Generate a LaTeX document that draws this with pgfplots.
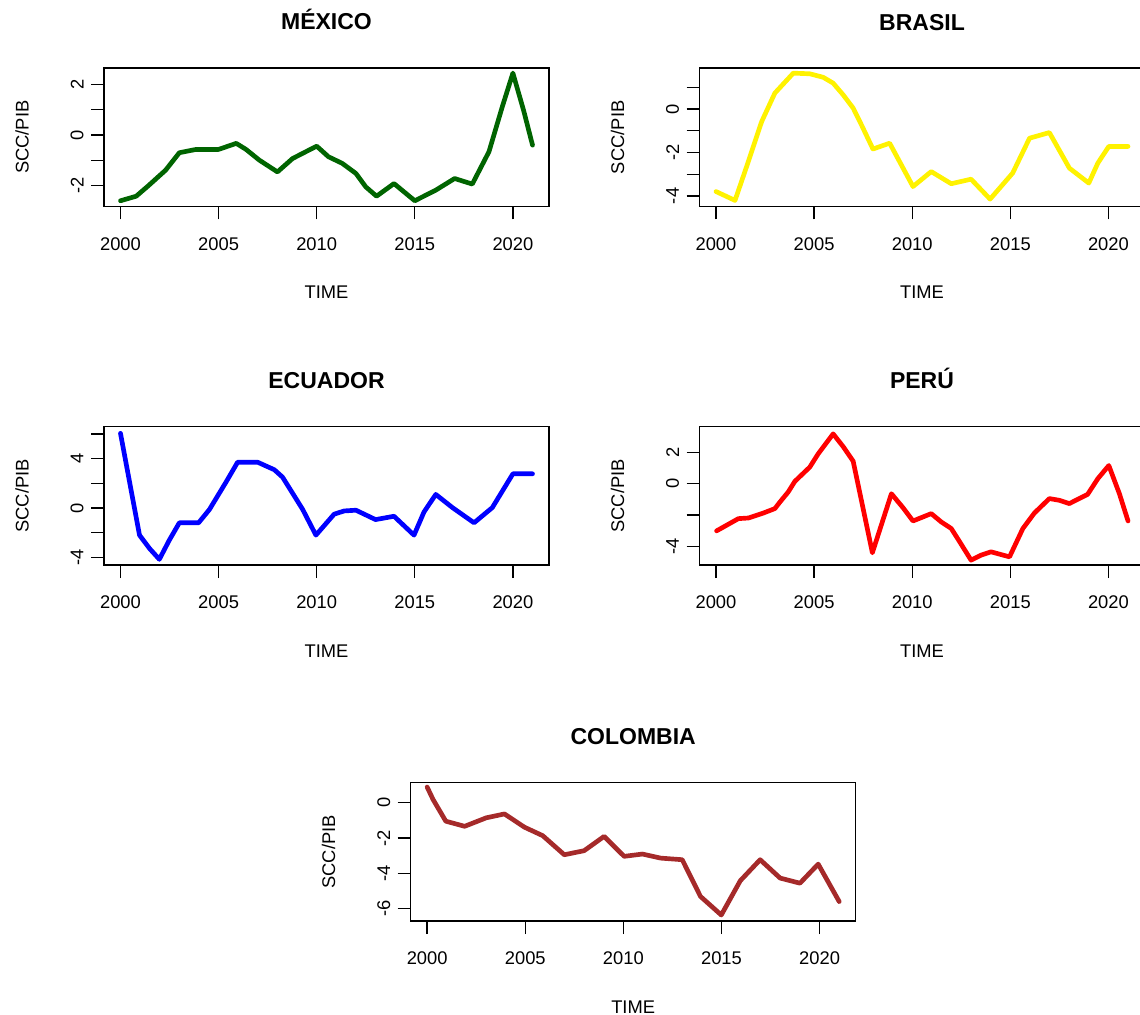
\documentclass[border=0pt]{standalone}
\usepackage{fontspec}
\setmainfont{Liberation Sans}
\usepackage{pgfplots}
\pgfplotsset{compat=1.18}
\definecolor{rdarkgreen}{HTML}{006400}
\definecolor{rbrown}{HTML}{A52A2A}
\pgfplotsset{
  rpanel/.style={
    scale only axis, width=267pt, height=83pt,
    xmin=1999.16, xmax=2021.84,
    axis line style={line width=0.8pt},
    every tick/.style={black, line width=0.8pt},
    tick align=outside, major tick length=7.8pt,
    xtick pos=left, ytick pos=left,
    xtick={2000,2005,2010,2015,2020},
    xticklabels={2000,2005,2010,2015,2020},
    /pgf/number format/assume math mode=true,
    tick label style={font=\fontsize{11}{13}\selectfont},
    xticklabel style={anchor=center},
    xticklabel shift=14.8pt,
    yticklabel style={rotate=90, anchor=center},
    yticklabel shift=8.3pt,
    every axis title/.style={at={(rel axis cs:0.5,1)}, anchor=base, yshift=22.8pt, font=\bfseries\fontsize{13.8}{16}\selectfont},
    every axis x label/.style={at={(rel axis cs:0.5,0)}, anchor=center, yshift=-51.6pt, font=\fontsize{11}{13}\selectfont},
    every axis y label/.style={at={(rel axis cs:0,0.5)}, xshift=-49.2pt, rotate=90, anchor=center, font=\fontsize{11}{13}\selectfont},
    xlabel=TIME, ylabel=SCC/PIB,
    every axis plot/.append style={line width=2.8pt, line join=round, line cap=round},
  }
}
\begin{document}
\begin{tikzpicture}
\useasboundingbox (0,0) rectangle (684pt,-609pt);
% MEXICO
\begin{axis}[rpanel, at={(62.4pt,-123.8pt)}, anchor=south west,
  title={MÉXICO}, ymin=-2.82, ymax=2.65,
  ytick={-2,-1,0,1,2}, yticklabels={-2,,0,,2}]
\addplot[rdarkgreen] coordinates {
(2000,-2.6) (2000.8,-2.42) (2001.4,-2.02) (2002.3,-1.39) (2003.0,-0.70) (2003.85,-0.57)
(2005.0,-0.57) (2005.9,-0.33) (2006.4,-0.57) (2007.07,-0.99) (2008.0,-1.46) (2008.77,-0.93)
(2010.0,-0.44) (2010.6,-0.86) (2011.3,-1.12) (2012.0,-1.52) (2012.5,-2.05) (2013.05,-2.42)
(2013.94,-1.92) (2015.0,-2.6) (2016.07,-2.18) (2017.03,-1.72) (2017.93,-1.94) (2018.78,-0.66)
(2019.46,1.12) (2020.0,2.45) (2020.56,0.93) (2021.0,-0.40)};
\end{axis}
% BRASIL
\begin{axis}[rpanel, at={(419.7pt,-123.9pt)}, anchor=south west,
  title={BRASIL}, ymin=-4.49, ymax=1.89,
  ytick={-4,-3,-2,-1,0,1}, yticklabels={-4,,-2,,0,}]
\addplot[yellow] coordinates {
(2000.0,-3.8) (2000.97,-4.21) (2001.56,-2.65) (2002.33,-0.57) (2003.0,0.74) (2003.94,1.66)
(2004.78,1.63) (2005.46,1.47) (2005.97,1.2) (2006.48,0.66) (2006.99,0.05) (2007.41,-0.72)
(2008.0,-1.84) (2008.85,-1.57) (2010.04,-3.57) (2010.97,-2.88) (2011.99,-3.44) (2013.0,-3.23)
(2013.97,-4.15) (2015.12,-2.95) (2015.98,-1.34) (2016.99,-1.08) (2018.01,-2.72) (2019.0,-3.41)
(2019.46,-2.49) (2020.02,-1.72) (2021.0,-1.72)};
\end{axis}
% ECUADOR
\begin{axis}[rpanel, at={(62.4pt,-339pt)}, anchor=south west,
  title={ECUADOR}, ymin=-4.62, ymax=6.59,
  ytick={-4,-2,0,2,4,6}, yticklabels={-4,,0,,4,}]
\addplot[blue] coordinates {
(2000,6.05) (2000.97,-2.2) (2001.48,-3.28) (2001.98,-4.16) (2002.49,-2.6) (2003.0,-1.2)
(2003.98,-1.2) (2004.53,-0.13) (2005.38,2.1) (2005.97,3.71) (2006.99,3.71) (2007.84,3.1)
(2008.26,2.5) (2009.28,-0.1) (2009.96,-2.2) (2010.89,-0.5) (2011.4,-0.24) (2012.0,-0.18)
(2013.0,-0.94) (2013.94,-0.67) (2014.96,-2.2) (2015.47,-0.32) (2016.07,1.1) (2016.92,0.03)
(2018.02,-1.2) (2018.95,0.03) (2020.0,2.77) (2021.0,2.77)};
\end{axis}
% PERU
\begin{axis}[rpanel, at={(419.7pt,-339pt)}, anchor=south west,
  title={PERÚ}, ymin=-5.19, ymax=3.64,
  ytick={-4,-2,0,2}, yticklabels={-4,,0,2}]
\addplot[red] coordinates {
(2000.03,-3.01) (2000.46,-2.71) (2001.14,-2.23) (2001.65,-2.19) (2002.42,-1.87) (2003.0,-1.59)
(2003.26,-1.17) (2003.68,-0.53) (2004.02,0.15) (2004.78,1.06) (2005.21,1.91) (2005.97,3.18)
(2006.48,2.37) (2006.99,1.44) (2007.41,-1.06) (2007.97,-4.41) (2008.94,-0.64) (2009.53,-1.53)
(2010.04,-2.38) (2010.97,-1.91) (2011.48,-2.44) (2011.99,-2.86) (2012.42,-3.71) (2013.0,-4.88)
(2013.51,-4.56) (2014.02,-4.35) (2014.96,-4.67) (2015.64,-2.86) (2016.23,-1.87) (2016.99,-0.95)
(2017.5,-1.06) (2018.01,-1.27) (2018.43,-1.0) (2018.94,-0.68) (2019.46,0.32) (2020.02,1.16)
(2020.56,-0.64) (2021.0,-2.38)};
\end{axis}
% COLOMBIA
\begin{axis}[rpanel, at={(246.4pt,-552.6pt)}, anchor=south west,
  title={COLOMBIA}, ymin=-6.69, ymax=1.14,
  ytick={-6,-4,-2,0}, yticklabels={-6,-4,-2,0}]
\addplot[rbrown] coordinates {
(2000,0.89) (2000.3,0.19) (2000.95,-1.04) (2001.91,-1.33) (2003.01,-0.85) (2003.94,-0.63)
(2004.96,-1.38) (2005.89,-1.86) (2006.99,-2.94) (2008.0,-2.71) (2009.02,-1.9) (2010.04,-3.03)
(2010.97,-2.9) (2011.9,-3.13) (2013.0,-3.22) (2013.93,-5.3) (2014.99,-6.35) (2015.96,-4.41)
(2016.97,-3.22) (2017.99,-4.26) (2019.0,-4.55) (2019.93,-3.47) (2021.0,-5.59)};
\end{axis}
\end{tikzpicture}
\end{document}
